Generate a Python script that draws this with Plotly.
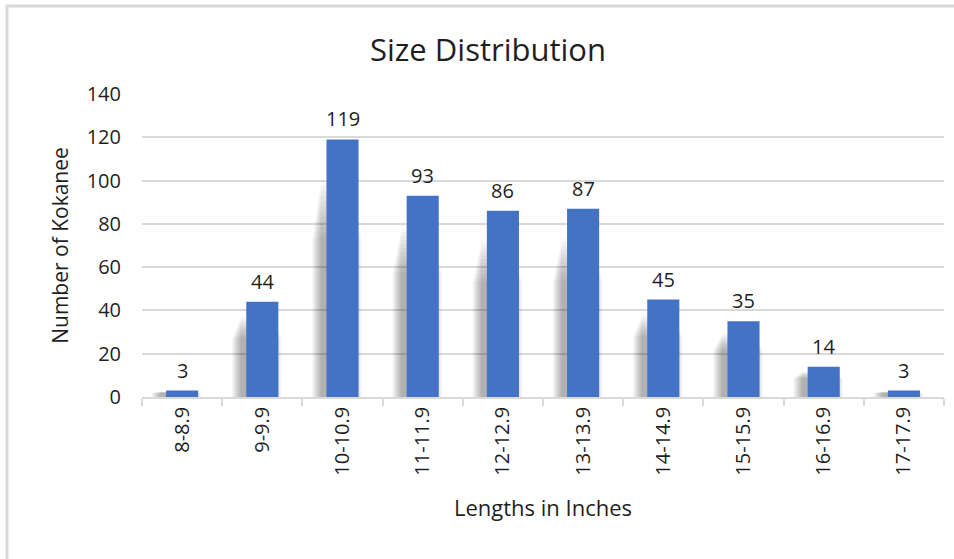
import plotly.graph_objects as go

# Kokanee length classes and counts
categories = ["8-8.9", "9-9.9", "10-10.9", "11-11.9", "12-12.9",
              "13-13.9", "14-14.9", "15-15.9", "16-16.9", "17-17.9"]
counts = [3, 44, 119, 93, 86, 87, 45, 35, 14, 3]
y_ticks = [0, 20, 40, 60, 80, 100, 120, 140]

W, H = 954, 559
ML, MR, MT, MB = 142, 10, 94, 162
PW, PH = W - ML - MR, H - MT - MB

FONT = "Open Sans"
TXT = "#1f1f1f"
BAR = "#4472C4"
GRID = "#d9d9d9"


def px_x(x):
    return (x - ML) / PW


def px_y(y):
    return (H - MB - y) / PH


fig = go.Figure()

# soft drop shadow behind each column, built up from translucent layers
N_LAYERS = 12
for i in range(N_LAYERS):
    w = 0.40 + 0.02 * i
    fig.add_trace(go.Bar(
        x=categories,
        y=[v * (0.84 - 0.02 * i) for v in counts],
        width=w,
        offset=-w / 2 - 0.07,
        marker=dict(color="rgba(0,0,0,0.026)", line=dict(width=0)),
        hoverinfo="skip",
        showlegend=False,
    ))

# the columns themselves
fig.add_trace(go.Bar(
    x=categories,
    y=counts,
    width=0.40,
    offset=-0.20,
    marker=dict(color=BAR, line=dict(width=0)),
    hoverinfo="skip",
    showlegend=False,
))

# value labels above the columns
for c, v in zip(categories, counts):
    fig.add_annotation(
        x=c, y=v, text=str(v), showarrow=False,
        xanchor="center", yanchor="bottom", yshift=5,
        font=dict(family=FONT, size=20, color=TXT),
    )

# chart frame (top and left edges)
fig.add_shape(type="line", xref="paper", yref="paper",
              x0=px_x(6), x1=px_x(W + 5), y0=px_y(6), y1=px_y(6),
              line=dict(color=GRID, width=3))
fig.add_shape(type="line", xref="paper", yref="paper",
              x0=px_x(7), x1=px_x(7), y0=px_y(5), y1=px_y(H + 5),
              line=dict(color=GRID, width=3))

fig.update_layout(
    width=W, height=H,
    margin=dict(l=ML, r=MR, t=MT, b=MB),
    paper_bgcolor="white", plot_bgcolor="white",
    barmode="overlay",
    showlegend=False,
    title=dict(text="Size Distribution", x=px_x(488), xref="paper",
               xanchor="center", y=1 - 50 / H, yanchor="middle",
               font=dict(family=FONT, size=31, color=TXT)),
    xaxis=dict(
        type="category",
        tickangle=-90,
        showgrid=False,
        showline=True, linecolor=GRID, linewidth=1.5,
        ticks="outside", tickson="boundaries", ticklen=7,
        tickcolor=GRID, tickwidth=1.5,
        tickfont=dict(family=FONT, size=20, color=TXT),
        title=dict(text="Lengths in Inches", standoff=26,
                   font=dict(family=FONT, size=22, color=TXT)),
        fixedrange=True,
    ),
    yaxis=dict(
        range=[0, 140],
        tickvals=y_ticks,
        showgrid=True, gridcolor=GRID, gridwidth=1.5,
        zeroline=False, showline=False,
        ticks="", ticklabelstandoff=20,
        tickfont=dict(family=FONT, size=20, color=TXT),
        title=dict(text="Number of Kokanee", standoff=12,
                   font=dict(family=FONT, size=21, color=TXT)),
        fixedrange=True,
    ),
)

fig.write_html("out.html")
